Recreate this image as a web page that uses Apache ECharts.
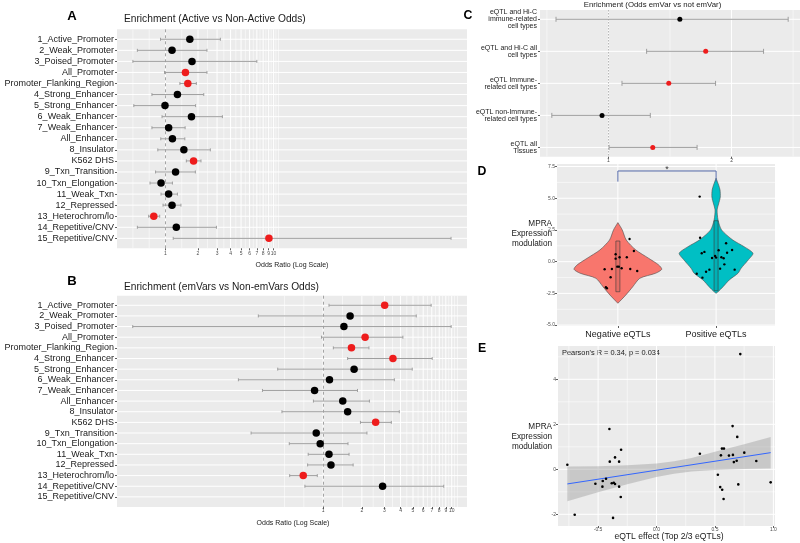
<!DOCTYPE html>
<html><head><meta charset="utf-8">
<script src="https://cdn.jsdelivr.net/npm/echarts@6/dist/echarts.min.js"></script>
<style>html,body{margin:0;padding:0;background:#fff}#c{width:800px;height:543px}</style>
</head><body><div id="c"></div>
<script>
// ================= DATA =================
const stateNames = ['1_Active_Promoter','2_Weak_Promoter','3_Poised_Promoter','All_Promoter','Promoter_Flanking_Region','4_Strong_Enhancer','5_Strong_Enhancer','6_Weak_Enhancer','7_Weak_Enhancer','All_Enhancer','8_Insulator','K562 DHS','9_Txn_Transition','10_Txn_Elongation','11_Weak_Txn','12_Repressed','13_Heterochrom/lo','14_Repetitive/CNV','15_Repetitive/CNV'];

// Panel A: Active vs Non-Active odds ratios (with CI)
const aOdds = [1.68,1.15,1.76,1.53,1.61,1.29,0.99,1.74,1.07,1.16,1.48,1.82,1.24,0.91,1.07,1.15,0.78,1.26,9.05];
const aLow  = [0.90,0.55,0.50,0.98,1.36,0.75,0.51,0.93,0.75,0.905,0.85,1.56,0.81,0.72,0.91,0.95,0.70,0.55,1.18];
const aHigh = [3.22,2.42,7.0,2.42,1.93,2.26,1.90,3.36,1.52,1.51,2.60,2.13,1.89,1.16,1.29,1.39,0.885,2.96,437];
const aSig  = [0,0,0,1,1,0,0,0,0,0,0,1,0,0,0,0,1,0,1];

// Panel B: emVars vs Non-emVars odds ratios
const bOdds = [3.01,1.62,1.45,2.12,1.66,3.49,1.74,1.12,0.857,1.42,1.55,2.56,0.883,0.948,1.11,1.15,0.70,2.90,null];
const bLow  = [1.11,0.313,0.033,0.97,1.20,1.55,0.443,0.219,0.337,0.84,0.478,1.95,0.275,0.545,0.765,0.757,0.549,0.721,null];
const bHigh = [6.92,5.30,9.9,4.17,2.27,7.05,4.93,3.58,1.85,2.29,3.91,3.39,2.19,1.56,1.59,1.71,0.90,8.67,null];
const bSig  = [1,0,0,1,1,1,0,0,0,0,0,1,0,0,0,0,1,0,0];

const oddsTicks = [1,2,3,4,5,6,7,8,9,10];

// Panel C
const cNames = ['eQTL and Hi-C\nimmune-related\ncell types','eQTL and Hi-C all\ncell types','eQTL Immune-\nrelated cell types','eQTL non-Immune-\nrelated cell types','eQTL all\nTissues'];
const cOdds = [1.58,1.79,1.49,0.948,1.36];
const cLow  = [0.574,1.31,1.11,0.54,1.005];
const cHigh = [2.46,2.26,1.87,1.34,1.72];
const cSig  = [0,1,1,0,1];
const cTicks = [1,2];

// Panel D: violins (MPRA expression modulation)
const dGroups = ['Negative eQTLs','Positive eQTLs'];
const dTicks = [-5,-2.5,0,2.5,5,7.5];
const negViolinY = [3.08,2.50,1.71,0.92,0.27,-0.26,-0.60,-0.91,-1.31,-1.97,-2.63,-3.28];
const negViolinD = [0,0.10,0.19,0.41,0.70,0.93,1.00,0.86,0.50,0.34,0.18,0];
const posViolinY = [6.58,6.05,5.65,5.08,4.55,4.08,3.29,2.50,1.71,1.18,0.66,0.13,-0.52,-0.91,-1.44,-1.97,-2.37,-2.49];
const posViolinD = [0,0.057,0.09,0.095,0.057,0.023,0.045,0.125,0.38,0.64,0.84,0.73,0.57,0.50,0.30,0.16,0.045,0];
const boxLow  = [-2.37,-2.29];
const boxHigh = [1.63,3.23];
const negPts = [1.79,0.84,0.35,0.24,0.35,-0.39,-0.39,-0.52,-0.58,-0.60,-0.58,-0.73,-1.23,-2.02,-2.10,0.58];
const negJit = [0.119,0.163,0.091,-0.023,0.017,-0.006,0.010,0.038,-0.061,-0.135,0.126,0.197,-0.074,-0.122,-0.112,-0.023];
const posPts = [5.13,1.89,1.45,0.66,0.77,0.90,0.71,0.92,0.45,0.32,0.35,0.27,0.29,-0.21,-0.55,-0.63,-0.63,-0.79,-0.95,-1.26];
const posJit = [-0.167,-0.163,0.102,-0.146,-0.119,0.026,0.112,0.163,-0.010,0,0.054,0.077,-0.041,0.084,0.041,-0.068,0.189,-0.102,-0.197,-0.139];
const signifY = [6.31,7.15];
const signifLabel = '*';

// Panel E: scatter
const eEffect = [0.717,0.651,0.691,0.751,0.854,0.56,0.577,0.551,0.62,0.654,0.662,0.686,0.371,0.525,0.545,0.562,0.574,0.70,0.977,-0.763,-0.70,-0.403,-0.303,-0.355,-0.40,-0.32,-0.432,-0.46,-0.523,-0.463,-0.383,-0.366,-0.355,-0.32,-0.306,-0.372];
const eMpra   = [5.12,1.92,1.44,0.74,0.37,0.92,0.92,0.62,0.61,0.64,0.32,0.38,0.69,-0.24,-0.79,-0.91,-1.32,-0.67,-0.58,0.20,-2.02,1.79,0.87,0.53,0.34,0.34,-0.42,-0.52,-0.64,-0.77,-0.62,-0.60,-0.65,-0.77,-1.23,-2.16];
const fitX = [-0.763,0.977];
const fitY = [-0.65,0.74];
const bandX  = [-0.763,-0.5,-0.25,0,0.15,0.3,0.5,0.75,0.977];
const bandLo = [-1.42,-1.02,-0.66,-0.34,-0.20,-0.10,-0.03,0.01,0.04];
const bandHi = [0.12,0.14,0.18,0.26,0.36,0.50,0.78,1.11,1.44];
const eXTicks = [-0.5,0,0.5,1];
const eYTicks = [-2,0,2,4];
const pearsonText = "Pearson's R = 0.34, p = 0.034";

// ================= FONTS =================
function hasFont(name){
  const c=document.createElement('canvas').getContext('2d'); const s='Promoter_Flanking_Region 0123';
  c.font='20px monospace'; const w0=c.measureText(s).width;
  c.font='20px "'+name+'", monospace'; const w1=c.measureText(s).width;
  c.font='20px serif'; const w2=c.measureText(s).width;
  c.font='20px "'+name+'", serif'; const w3=c.measureText(s).width;
  return w0!==w1 || w2!==w3;
}
const NARROW = hasFont('Liberation Sans Narrow');
const FF = NARROW ? '"Liberation Sans Narrow", "Liberation Sans", sans-serif' : '"Liberation Sans", sans-serif';
const K = NARROW ? 1 : 0.82;
const fs = n => Math.round(n*K*10)/10;

// ================= HELPERS =================
const RED = '#EE1C1C', GRAYBAR = '#9E9E9E', WHITE = '#FFFFFF', TXT = '#1a1a1a', TICKTXT = '#4D4D4D';
const L10 = Math.log10;
function midsLog(t){ const r=[]; for(let i=0;i<t.length-1;i++) r.push(L10(Math.sqrt(t[i]*t[i+1]))); return r; }
const logMajor = oddsTicks.map(L10);
const logMinor = [L10(0.5), L10(Math.SQRT1_2)].concat(midsLog(oddsTicks), [L10(10.5), L10(11.1)]);

function mkAxis(gridIndex, min, max, major, fmt, lab, o){
  return Object.assign({
    type:'value', gridIndex, min, max,
    axisLine:{show:false, onZero:false},
    axisTick:{show:true, length:2, customValues:major, lineStyle:{color:'#333', width:0.8}},
    axisLabel:{show:true, customValues:major, formatter:fmt, fontFamily:FF, fontSize:lab.size, color:lab.color||TICKTXT, margin:lab.margin, lineHeight:lab.lh, align:lab.align},
    splitLine:{show:false}
  }, o||{});
}
// white panel grid lines drawn through the axes' own coordinate mapping
function gridSeries(xi, yi, vMaj, vMin, hMaj, hMin){
  const data=[];
  vMaj.forEach(v=>data.push([v,0,1])); vMin.forEach(v=>data.push([v,0,0.55]));
  hMaj.forEach(v=>data.push([v,1,1])); hMin.forEach(v=>data.push([v,1,0.55]));
  return {type:'custom', xAxisIndex:xi, yAxisIndex:yi, z:0, silent:true, clip:true, data,
    renderItem:(p,api)=>{
      const cs=p.coordSys, v=api.value(0), o=api.value(1), w=api.value(2);
      let shape;
      if(o===0){ const x=api.coord([v,0])[0]; shape={x1:x,y1:cs.y,x2:x,y2:cs.y+cs.height}; }
      else { const y=api.coord([0,v])[1]; shape={x1:cs.x,y1:y,x2:cs.x+cs.width,y2:y}; }
      return {type:'line', shape, style:{stroke:WHITE, lineWidth:w}};
    }};
}
function errSeries(xi, yi, lo, hi, cap){
  const data=[]; lo.forEach((v,i)=>{ if(v!=null) data.push([lo[i], hi[i], i+1]); });
  return {type:'custom', xAxisIndex:xi, yAxisIndex:yi, z:2, silent:true, encode:{x:[0,1], y:2},
    renderItem:(p,api)=>{
      const a=api.coord([api.value(0), api.value(2)]), b=api.coord([api.value(1), api.value(2)]);
      const st={stroke:GRAYBAR, lineWidth:1};
      return {type:'group', children:[
        {type:'line', shape:{x1:a[0],y1:a[1],x2:b[0],y2:b[1]}, style:st},
        {type:'line', shape:{x1:a[0],y1:a[1]-cap,x2:a[0],y2:a[1]+cap}, style:st},
        {type:'line', shape:{x1:b[0],y1:b[1]-cap,x2:b[0],y2:b[1]+cap}, style:st}]};
    }, data};
}
function ptSeries(xi, yi, vals, sig, size, tf, refLine){
  const data=[]; vals.forEach((v,i)=>{ if(v!=null) data.push({value:[tf(v), i+1], itemStyle:{color: sig[i]?RED:'#000', opacity:1}}); });
  return {type:'scatter', xAxisIndex:xi, yAxisIndex:yi, z:4, symbolSize:size, silent:true, itemStyle:{opacity:1}, data,
    markLine:{silent:true, symbol:'none', label:{show:false}, z:1, animation:false,
      lineStyle:{type:refLine.type, color:refLine.color, width:0.9, opacity:1}, data:[{xAxis:refLine.x}]}};
}
function txt(x,y,text,size,o){ o=o||{};
  return {type:'text', x, y, silent:true, style:{text, fontSize:size, fontFamily:FF, fontWeight:o.bold?'bold':'normal',
    fill:o.color||TXT, align:o.align||'left', verticalAlign:'middle', lineHeight:o.lh}};
}
const rows19 = stateNames.map((_,i)=>i+1);
const rows5 = cNames.map((_,i)=>i+1);

// ================= AXES =================
const aMin=-0.448, aMax=2.788, bMin=-1.604, bMax=1.119;
const oddsFmt = v => String(Math.round(Math.pow(10,v)));
const xAxes = [
  mkAxis(0, aMin, aMax, logMajor, oddsFmt, {size:5, margin:2.5}),
  mkAxis(1, bMin, bMax, logMajor, oddsFmt, {size:5, margin:1.5}),
  mkAxis(2, 0.444, 2.556, cTicks, v=>String(v), {size:5, margin:1.2}),
  mkAxis(3, 0.38, 2.6, [1,2], v=>dGroups[Math.round(v)-1], {size:fs(11), margin:4.5, color:TXT}),
  mkAxis(4, -0.843, 1.014, eXTicks, v=>v.toFixed(1), {size:5, margin:1.5})
];
const yAxes = [
  mkAxis(0, 0.1, 19.9, rows19, v=>stateNames[Math.round(v)-1], {size:fs(11), margin:3, color:TXT}, {inverse:true}),
  mkAxis(1, 0.1, 19.95, rows19, v=>stateNames[Math.round(v)-1], {size:fs(11), margin:3, color:TXT}, {inverse:true}),
  mkAxis(2, 0.71, 5.29, rows5, v=>cNames[Math.round(v)-1], {size:fs(8.5), margin:3, color:'#222', lh:fs(8.3)}, {inverse:true}),
  mkAxis(3, -5.07, 7.70, dTicks, v=>v.toFixed(1), {size:5, margin:2}),
  mkAxis(4, -2.52, 5.48, eYTicks, v=>String(v), {size:5, margin:2})
];

const grids = [
  {left:117, top:29.3, width:350, height:219},
  {left:117, top:295.7, width:350, height:211.3},
  {left:540, top:10, width:260, height:146.7},
  {left:557, top:164, width:218, height:162},
  {left:558, top:346, width:217, height:180}
].map(g=>Object.assign({show:true, backgroundColor:'#EBEBEB', borderWidth:0, containLabel:false, outerBoundsMode:'none'}, g));

// ================= SERIES =================
const VIOLIN_HALF = 0.447;
const series = [
  gridSeries(0,0, logMajor, logMinor, rows19, []),
  gridSeries(1,1, logMajor, logMinor, rows19, []),
  gridSeries(2,2, cTicks, [0.5,1.5,2.5], rows5, []),
  gridSeries(3,3, [1,2], [], dTicks, [-3.75,-1.25,1.25,3.75,6.25]),
  gridSeries(4,4, eXTicks, [-0.75,-0.25,0.25,0.75], eYTicks, [-1,1,3,5]),
  errSeries(0,0, aLow.map(L10), aHigh.map(L10), 1.5),
  ptSeries(0,0, aOdds, aSig, 7.5, L10, {x:0, type:[3,3], color:'#9a9a9a'}),
  errSeries(1,1, bLow.map(v=>v==null?null:L10(v)), bHigh.map(v=>v==null?null:L10(v)), 1.5),
  ptSeries(1,1, bOdds, bSig, 7.5, L10, {x:0, type:[3,3], color:'#9a9a9a'}),
  errSeries(2,2, cLow, cHigh, 2.5),
  ptSeries(2,2, cOdds, cSig, 5, v=>v, {x:1, type:[1.5,1.5], color:'#b0b0b0'}),
  // violins
  {type:'custom', xAxisIndex:3, yAxisIndex:3, z:2, silent:true, data:[[0,0],[1,0]],
    renderItem:(p,api)=>{
      const g=api.value(0), Y=g===0?negViolinY:posViolinY, D=g===0?negViolinD:posViolinD, cx=g+1;
      const right=Y.map((y,i)=>api.coord([cx+D[i]*VIOLIN_HALF, y]));
      const left=Y.map((y,i)=>api.coord([cx-D[i]*VIOLIN_HALF, y])).reverse();
      return {type:'polygon', shape:{points:right.concat(left), smooth:0.25},
        style:{fill:g===0?'#F8766D':'#00BFC4', stroke:'#4a4a4a', lineWidth:0.6}};
    }},
  {type:'custom', xAxisIndex:3, yAxisIndex:3, z:3, silent:true, data:[[1,boxLow[0],boxHigh[0]],[2,boxLow[1],boxHigh[1]]],
    renderItem:(p,api)=>{
      const a=api.coord([api.value(0), api.value(2)]), b=api.coord([api.value(0), api.value(1)]);
      return {type:'rect', shape:{x:a[0]-2, y:a[1], width:4, height:b[1]-a[1]},
        style:{fill:'rgba(0,0,0,0.07)', stroke:'#3a3a3a', lineWidth:0.6}};
    }},
  {type:'scatter', xAxisIndex:3, yAxisIndex:3, z:4, silent:true, symbolSize:2.4, itemStyle:{color:'#000', opacity:1},
    data: negPts.map((v,i)=>[1+negJit[i], v]).concat(posPts.map((v,i)=>[2+posJit[i], v]))},
  {type:'line', xAxisIndex:3, yAxisIndex:3, z:4, silent:true, symbol:'none', lineStyle:{color:'#5468A8', width:1},
    data:[[1,signifY[0]],[1,signifY[1]],[2,signifY[1]],[2,signifY[0]]]},
  {type:'scatter', xAxisIndex:3, yAxisIndex:3, z:4, silent:true, symbolSize:0,
    label:{show:true, position:'inside', formatter:signifLabel, fontSize:9, fontFamily:FF, color:'#000'},
    data:[[1.5, signifY[1]+0.15]]},
  // panel E
  {type:'custom', xAxisIndex:4, yAxisIndex:4, z:2, silent:true, data:[[0,0]],
    renderItem:(p,api)=>{
      const up=bandX.map((x,i)=>api.coord([x,bandHi[i]]));
      const lo=bandX.map((x,i)=>api.coord([x,bandLo[i]])).reverse();
      return {type:'polygon', shape:{points:up.concat(lo)}, style:{fill:'rgba(153,153,153,0.42)'}};
    }},
  {type:'line', xAxisIndex:4, yAxisIndex:4, z:3, silent:true, symbol:'none', lineStyle:{color:'#3366FF', width:1},
    data: fitX.map((x,i)=>[x, fitY[i]])},
  {type:'scatter', xAxisIndex:4, yAxisIndex:4, z:4, silent:true, symbolSize:2.6, itemStyle:{color:'#000', opacity:1},
    data: eEffect.map((x,i)=>[x, eMpra[i]])}
];

// ================= TEXT =================
const graphics = [
  txt(72,16,'A',fs(16),{bold:true, align:'center', color:'#000'}),
  txt(72,281,'B',fs(16),{bold:true, align:'center', color:'#000'}),
  txt(468,16,'C',fs(15),{bold:true, align:'center', color:'#000'}),
  txt(482,172,'D',fs(15),{bold:true, align:'center', color:'#000'}),
  txt(482,349,'E',fs(15),{bold:true, align:'center', color:'#000'}),
  txt(124,19.3,'Enrichment (Active vs Non-Active Odds)',fs(12.4)),
  txt(124,287.3,'Enrichment (emVars vs Non-emVars Odds)',fs(12.4)),
  txt(292,265,'Odds Ratio (Log Scale)',fs(8.5),{align:'center'}),
  txt(293,523.3,'Odds Ratio (Log Scale)',fs(8.5),{align:'center'}),
  txt(652.5,5,'Enrichment (Odds emVar vs not emVar)',fs(9.5),{align:'center'}),
  txt(552,233.8,'MPRA\nExpression\nmodulation',fs(10),{align:'right', lh:9.8}),
  txt(552,437,'MPRA\nExpression\nmodulation',fs(10),{align:'right', lh:9.8}),
  txt(562,353.3,pearsonText,fs(9)),
  txt(669,536.7,'eQTL effect (Top 2/3 eQTLs)',fs(10.5),{align:'center'})
];

const chart = echarts.init(document.getElementById('c'), null, {renderer:'canvas'});
chart.setOption({animation:false, backgroundColor:'#FFFFFF', grid:grids, xAxis:xAxes, yAxis:yAxes, series, graphic:{elements:graphics}});
</script></body></html>
